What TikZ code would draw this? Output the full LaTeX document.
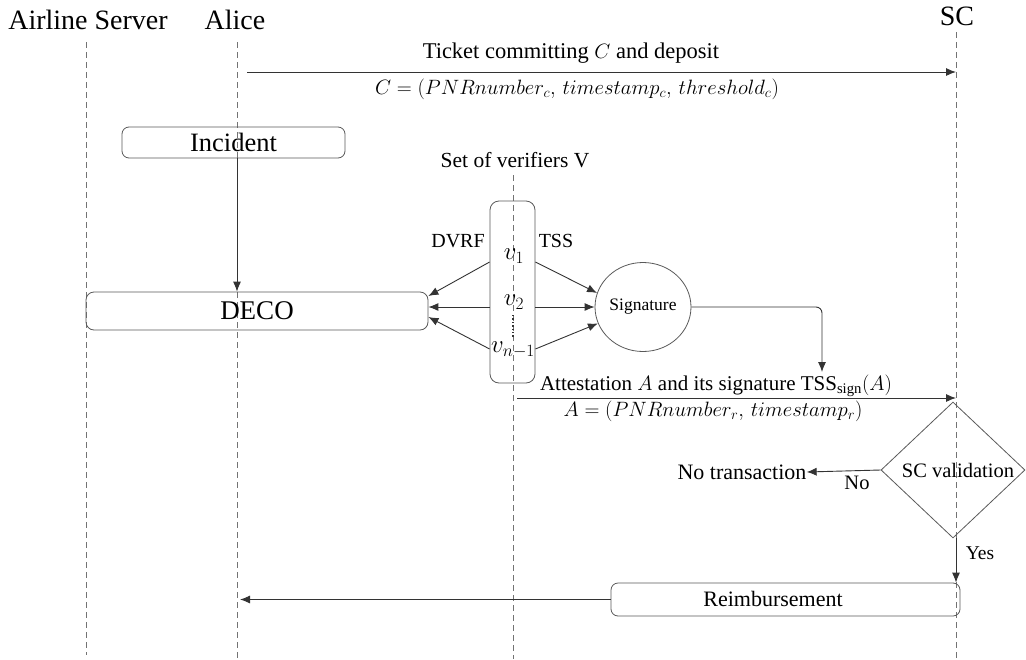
\documentclass[tikz,border=0pt]{standalone}
\usepackage{fontspec}
\setmainfont{Liberation Serif}
\usetikzlibrary{arrows.meta,shapes.geometric,calc}
\begin{document}
\begin{tikzpicture}[x=1pt,y=-1pt,
  hdr/.style={font=\fontsize{28}{32}\selectfont, inner sep=0pt},
  big/.style={font=\fontsize{26.5}{30}\selectfont, inner sep=0pt},
  med/.style={font=\fontsize{21.5}{25}\selectfont, inner sep=0pt},
  eqs/.style={font=\fontsize{22}{26}\selectfont, inner sep=0pt},
  vv/.style={font=\fontsize{25}{29}\selectfont, inner sep=0pt},
  life/.style={draw=black!55, line width=0.8pt, dash pattern=on 6pt off 4pt},
  msg/.style={draw=black!80, line width=0.9pt, -{Latex[length=10pt,width=8pt]}},
  rbox/.style={draw=black!65, line width=0.8pt, rounded corners=7pt, inner sep=0pt},
]
\useasboundingbox (0,0) rectangle (1026,659);

% headers
\node[hdr] (hAS) at (88,20) {Airline Server};
\node[hdr] (hA) at (235,20) {Alice};
\node[hdr] (hSC) at (957,16) {SC};
\node[med] (hV) at (515,160) {Set of verifiers V};

% lifelines
\coordinate (asTop) at (86,42);  \coordinate (asBot) at (86,655);
\coordinate (alTop) at (237,42); \coordinate (alBot) at (237,659);
\coordinate (scTop) at (956,32); \coordinate (scBot) at (956,659);
\coordinate (vTop) at (513,175); \coordinate (vBot) at (513,659);
\draw[life] (asTop) -- (asBot);
\draw[life] (alTop) -- (alBot);
\draw[life] (scTop) -- (scBot);
\draw[life] (vTop) -- (vBot);

% ticket message
\coordinate (tA) at (247,72);
\draw[msg] (tA) -- (tA -| scTop);
\node[med, font=\fontsize{22.5}{26}\selectfont] (tLab) at (571,53) {Ticket committing $C$ and deposit};
\node[eqs] (tEq) at (577,89) {$C = (PNRnumber_c,\, timestamp_c,\, threshold_c)$};

% incident and DECO
\node[rbox, big, minimum width=223pt, minimum height=31pt] (inc) at (233.5,142.5) {Incident};
\node[rbox, big, font=\fontsize{27}{31}\selectfont, minimum width=342pt, minimum height=38pt, rounded corners=8pt] (deco) at (257,311) {DECO};
\draw[msg] (inc.south -| alTop) -- (deco.north -| alTop);

% verifiers
\node[rbox, minimum width=45pt, minimum height=182pt, rounded corners=9pt] (vbox) at (512.5,292) {};
\node[vv] (v1) at (514,256) {$v_1$};
\node[vv] (v2) at (514,302) {$v_2$};
\node[vv, font=\fontsize{23}{27}\selectfont] (vn) at (513,350) {$v_{n-1}$};
\draw[black!80, line width=1.4pt, dotted] (513,315) -- (513,337);
\node[med, font=\fontsize{20}{24}\selectfont] (dvrf) at (458,241) {DVRF};
\node[med, font=\fontsize{20}{24}\selectfont] (tss) at (556,241) {TSS};

% signature
\node[draw=black!65, line width=0.8pt, ellipse, minimum width=96pt, minimum height=89pt, inner sep=0pt] (sig) at (643,307) {};
\node[med, font=\fontsize{17.5}{21}\selectfont] (sigt) at (643,307) {Signature};

\draw[msg] ([yshift=30pt]vbox.west) -- ([yshift=15pt]deco.east);
\draw[msg] ([yshift=-15pt]vbox.west) -- ([yshift=4pt]deco.east);
\draw[msg] ([yshift=-57pt]vbox.west) -- ([yshift=-6pt]deco.east);
\draw[msg] ([yshift=30pt]vbox.east) -- (sig.163);
\draw[msg] ([yshift=-15pt]vbox.east) -- (sig.180);
\draw[msg] ([yshift=-57pt]vbox.east) -- (sig.200);

\coordinate (sigEnd) at (822,372);
\draw[msg, rounded corners=6pt] (sig.east) -| (sigEnd);

% attestation
\coordinate (aA) at (517,398);
\draw[msg] (aA) -- (aA -| scTop);
\node[med, font=\fontsize{21}{25}\selectfont] (aLab) at (716,386) {Attestation $A$ and its signature TSS$_{\mathrm{sign}}(A)$};
\node[eqs] (aEq) at (713,411) {$A = (PNRnumber_r,\, timestamp_r)$};

% validation
\node[draw=black!65, line width=0.8pt, diamond, minimum width=144pt, minimum height=136pt, inner sep=0pt] (dia) at (953,470) {};
\node[med, font=\fontsize{20.5}{24}\selectfont] (diat) at (958,470) {SC validation};
\node[med, font=\fontsize{22}{26}\selectfont] (notx) at (742,472) {No transaction};
\draw[msg] (dia.west) -- (notx.east);
\node[med, font=\fontsize{20.5}{24}\selectfont] (no) at (857,483) {No};

% reimbursement
\node[rbox, minimum width=349pt, minimum height=33pt] (reim) at (785.5,599.5) {};
\node[med, font=\fontsize{22}{26}\selectfont] (reimt) at (773,599) {Reimbursement};
\draw[msg] (dia.south -| scTop) -- (reim.north -| scTop);
\node[med, font=\fontsize{19.5}{23}\selectfont] (yes) at (980,553) {Yes};
\draw[msg] (reim.west) -- ([xshift=3pt]reim.west -| alTop);
\end{tikzpicture}
\end{document}
